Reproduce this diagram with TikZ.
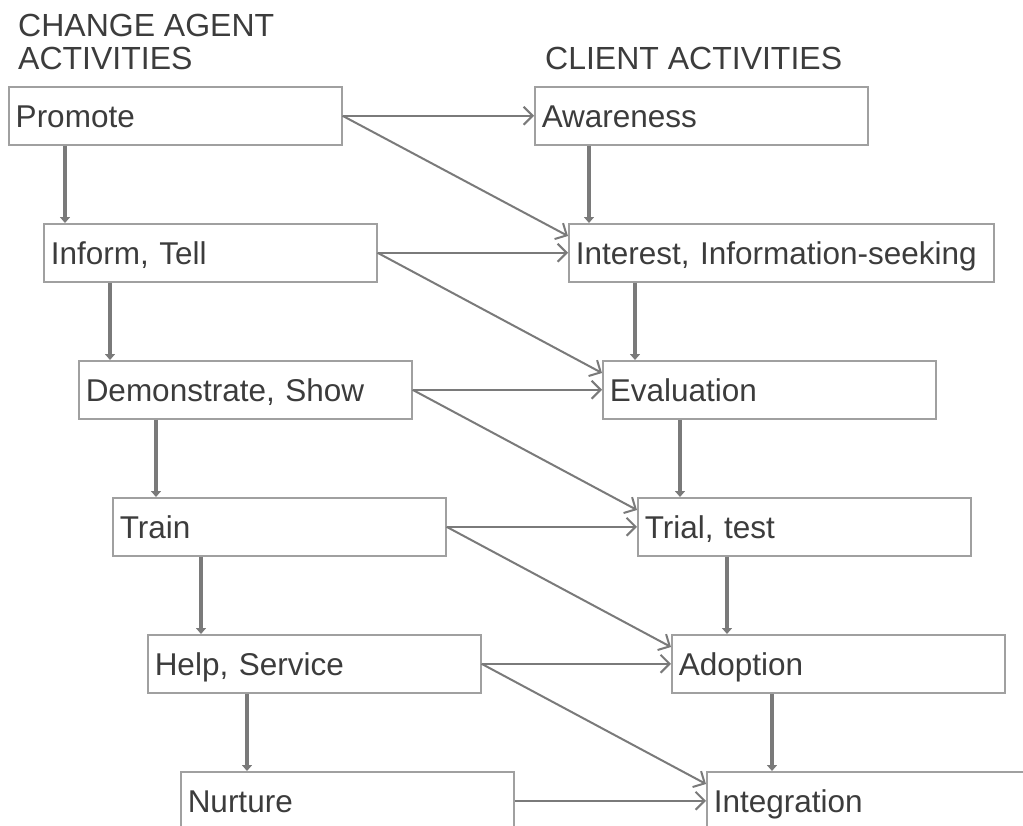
\documentclass[tikz,border=0pt]{standalone}
\usepackage{fontspec}
\setmainfont{Liberation Sans}
\usetikzlibrary{arrows.meta}
\definecolor{boxgray}{HTML}{A0A0A0}
\definecolor{arrowgray}{HTML}{7A7A7A}
\definecolor{textgray}{HTML}{3C3C3C}

\begin{document}
\begin{tikzpicture}[x=1pt,y=-1pt,
  box/.style={draw=boxgray,line width=1.5pt,anchor=north west,inner xsep=7pt,inner ysep=0pt,
    minimum height=58pt,text width=#1,align=left,text height=22.5pt,text depth=0pt,
    font=\fontsize{31.5}{36}\selectfont,text=textgray},
  box/.default=319pt,
  head/.style={inner sep=0pt,align=left,font=\fontsize{32}{33.5}\selectfont,text=textgray},
  down/.style={arrowgray,line width=3.6pt,-{Triangle[length=6pt,width=10pt]}},
  across/.style={arrowgray,line width=2pt,-{Straight Barb[length=9pt,width=18pt]}}]
 \useasboundingbox (0,0) rectangle (1023,825);
 \clip (0,0) rectangle (1023,825);

 \node[head,anchor=north west] at (18, 13.5)  (agenthead)  {CHANGE AGENT\\ACTIVITIES};
 \node[head,anchor=base west] at (545, 69.5)  (clienthead) {CLIENT ACTIVITIES};

 % change agent activities
 \node[box] at (8, 86)    (promote)  {Promote};
 \node[box] at (43, 223)  (inform)   {Inform, Tell};
 \node[box] at (78, 360)  (demo)     {Demonstrate, Show};
 \node[box] at (112, 497) (train)    {Train};
 \node[box] at (147, 634) (help)     {Help, Service};
 \node[box] at (180, 771) (nurture)  {Nurture};

 % client activities
 \node[box] at (534, 86)     (aware)    {Awareness};
 \node[box=411pt] at (568, 223) (interest) {Interest, Information-seeking};
 \node[box] at (602, 360)    (eval)     {Evaluation};
 \node[box] at (637, 497)    (trial)    {Trial, test};
 \node[box] at (671, 634)    (adopt)    {Adoption};
 \node[box=330pt] at (706, 771) (integ) {Integration};

 \draw[down] ([xshift=57pt]promote.south west) -- ([xshift=22pt]inform.north west);
 \draw[down] ([xshift=67pt]inform.south west)  -- ([xshift=32pt]demo.north west);
 \draw[down] ([xshift=78pt]demo.south west)    -- ([xshift=44pt]train.north west);
 \draw[down] ([xshift=89pt]train.south west)   -- ([xshift=54pt]help.north west);
 \draw[down] ([xshift=100pt]help.south west)   -- ([xshift=67pt]nurture.north west);

 \draw[down] ([xshift=55pt]aware.south west)    -- ([xshift=21pt]interest.north west);
 \draw[down] ([xshift=67pt]interest.south west) -- ([xshift=33pt]eval.north west);
 \draw[down] ([xshift=78pt]eval.south west)     -- ([xshift=43pt]trial.north west);
 \draw[down] ([xshift=90pt]trial.south west)    -- ([xshift=56pt]adopt.north west);
 \draw[down] ([xshift=101pt]adopt.south west)   -- ([xshift=66pt]integ.north west);

 \draw[across] (promote.east) -- (aware.west);
 \draw[across] (promote.east) -- ([yshift=-13pt]interest.north west);
 \draw[across] (inform.east)  -- (interest.west);
 \draw[across] (inform.east)  -- ([yshift=-13pt]eval.north west);
 \draw[across] (demo.east)    -- (eval.west);
 \draw[across] (demo.east)    -- ([yshift=-13pt]trial.north west);
 \draw[across] (train.east)   -- (trial.west);
 \draw[across] (train.east)   -- ([yshift=-13pt]adopt.north west);
 \draw[across] (help.east)    -- (adopt.west);
 \draw[across] (help.east)    -- ([yshift=-13pt]integ.north west);
 \draw[across] (nurture.east) -- (integ.west);
\end{tikzpicture}
\end{document}
